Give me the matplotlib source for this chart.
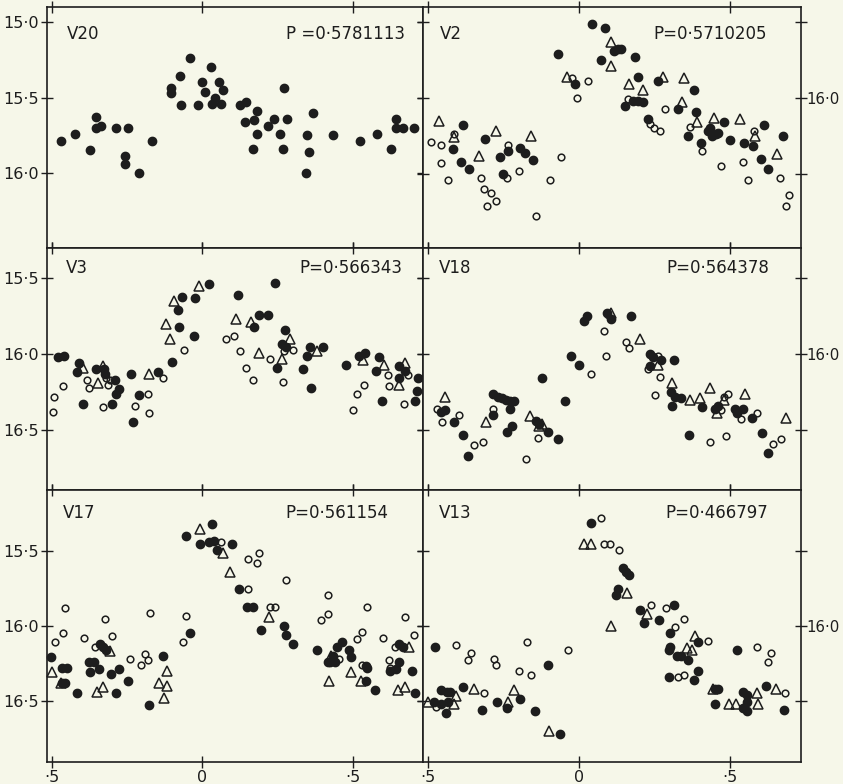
import matplotlib.pyplot as plt

# phase / magnitude
v20_f_ph = [-0.468, -0.422, -0.372, -0.352, -0.352, -0.337, -0.287, -0.256, -0.255, -0.248,
            -0.209, -0.166, -0.105, -0.105, -0.073, -0.071, -0.042, -0.014, -0.003, 0.008,
            0.029, 0.032, 0.043, 0.056, 0.063, 0.068, 0.123, 0.145, 0.142, 0.172,
            0.182, 0.182, 0.167, 0.217, 0.236, 0.257, 0.266, 0.270, 0.280, 0.345,
            0.353, 0.344, 0.368, 0.433, 0.521, 0.577, 0.626, 0.642, 0.641, 0.666, 0.701]
v20_f_mag = [15.79, 15.74, 15.85, 15.63, 15.70, 15.69, 15.70, 15.89, 15.94, 15.70,
             16.00, 15.79, 15.44, 15.47, 15.36, 15.55, 15.24, 15.55, 15.40, 15.46,
             15.30, 15.54, 15.50, 15.40, 15.54, 15.45, 15.55, 15.53, 15.66, 15.65,
             15.59, 15.74, 15.84, 15.69, 15.64, 15.74, 15.84, 15.44, 15.64, 15.75,
             15.86, 16.00, 15.60, 15.75, 15.79, 15.74, 15.84, 15.64, 15.70, 15.70, 15.70]

v2_f_ph = [-0.067, -0.013, 0.044, 0.087, 0.073, 0.118, 0.129, 0.139, 0.187, 0.196,
           0.154, 0.181, 0.197, 0.213, 0.262, 0.229, 0.329, 0.380, 0.388, 0.362,
           0.403, 0.426, 0.433, 0.441, 0.454, 0.461, 0.479, 0.500, 0.547, 0.576,
           0.612, 0.604, 0.627, 0.676,
           -0.382, -0.415, -0.389, -0.363, -0.311, -0.261, -0.250, -0.235, -0.193, -0.178, -0.152]
v2_f_mag = [15.71, 15.91, 15.51, 15.54, 15.75, 15.69, 15.68, 15.68, 15.73, 15.86,
            16.05, 16.02, 16.02, 16.03, 15.89, 16.14, 16.07, 15.95, 16.09, 16.25,
            16.30, 16.22, 16.20, 16.25, 16.24, 16.23, 16.16, 16.28, 16.30, 16.32,
            16.18, 16.40, 16.47, 16.25,
            16.18, 16.34, 16.42, 16.47, 16.27, 16.39, 16.50, 16.35, 16.33, 16.36, 16.41]
v2_o_ph = [-0.489, -0.454, -0.454, -0.432, -0.414, -0.324, -0.313, -0.291, -0.302, -0.273,
           -0.235, -0.236, -0.197, -0.140, -0.094, -0.058, -0.023, -0.006, 0.029, 0.163,
           0.235, 0.248, 0.270, 0.285, 0.369, 0.406, 0.470, 0.542, 0.559, 0.581,
           0.665, 0.695, 0.687]
v2_o_mag = [16.29, 16.31, 16.43, 16.54, 16.24, 16.53, 16.60, 16.63, 16.71, 16.68,
            16.31, 16.53, 16.48, 16.78, 16.54, 16.39, 15.87, 16.00, 15.89, 16.01,
            16.17, 16.20, 16.22, 16.07, 16.19, 16.35, 16.45, 16.42, 16.54, 16.22,
            16.53, 16.64, 16.71]
v2_t_ph = [-0.463, -0.414, -0.331, -0.272, -0.159, -0.040, 0.107, 0.107, 0.167, 0.213,
           0.278, 0.347, 0.341, 0.391, 0.446, 0.533, 0.583, 0.655]
v2_t_mag = [16.15, 16.26, 16.38, 16.22, 16.25, 15.86, 15.63, 15.79, 15.91, 15.95,
            15.86, 15.87, 16.03, 16.16, 16.13, 16.14, 16.25, 16.37]

v3_f_ph = [-0.477, -0.460, -0.409, -0.417, -0.396, -0.352, -0.325, -0.322, -0.298, -0.289,
           -0.288, -0.276, -0.238, -0.231, -0.210, -0.147, -0.100, -0.081, -0.076, -0.068,
           -0.029, -0.026, 0.021, 0.119, 0.171, 0.188, 0.216, 0.240, 0.273, 0.247,
           0.263, 0.276, 0.332, 0.355, 0.348, 0.360, 0.398, 0.475, 0.520, 0.540,
           0.585, 0.576, 0.595, 0.653, 0.653, 0.670, 0.703, 0.710, 0.716]
v3_f_mag = [16.02, 16.01, 16.06, 16.12, 16.33, 16.10, 16.10, 16.13, 16.33, 16.17,
            16.26, 16.23, 16.13, 16.45, 16.27, 16.12, 16.05, 15.71, 15.82, 15.62,
            15.88, 15.63, 15.54, 15.61, 15.82, 15.74, 15.74, 15.53, 15.84, 16.09,
            15.93, 15.95, 16.10, 15.95, 16.01, 16.22, 15.95, 16.07, 16.01, 15.99,
            16.02, 16.11, 16.31, 16.08, 16.16, 16.11, 16.31, 16.24, 16.16]
v3_o_ph = [-0.493, -0.496, -0.462, -0.381, -0.377, -0.330, -0.319, -0.313, -0.305, -0.222,
           -0.179, -0.178, -0.129, -0.060, 0.078, 0.106, 0.124, 0.143, 0.168, 0.225,
           0.268, 0.269, 0.301, 0.500, 0.511, 0.536, 0.616, 0.618, 0.669, 0.681]
v3_o_mag = [16.28, 16.38, 16.21, 16.17, 16.22, 16.35, 16.16, 16.20, 16.17, 16.34,
            16.26, 16.39, 16.16, 15.97, 15.90, 15.88, 15.98, 16.09, 16.17, 16.03,
            16.18, 15.98, 15.97, 16.37, 16.26, 16.20, 16.14, 16.21, 16.33, 16.14]
v3_t_ph = [-0.396, -0.347, -0.330, -0.177, -0.121, -0.108, -0.095, -0.011, 0.110, 0.160,
           0.189, 0.263, 0.290, 0.381, 0.533, 0.602, 0.651, 0.672]
v3_t_mag = [16.09, 16.19, 16.08, 16.13, 15.80, 15.90, 15.65, 15.55, 15.77, 15.79,
            15.99, 16.03, 15.90, 15.98, 16.04, 16.07, 16.20, 16.06]

v18_f_ph = [-0.455, -0.442, -0.413, -0.382, -0.365, -0.285, -0.283, -0.268, -0.254, -0.239,
            -0.228, -0.215, -0.227, -0.238, -0.220, -0.142, -0.133, -0.100, -0.069, -0.123,
            -0.044, -0.024, 0.000, 0.017, 0.028, 0.094, 0.107, 0.172, 0.236, 0.246,
            0.272, 0.237, 0.314, 0.305, 0.318, 0.338, 0.308, 0.366, 0.409, 0.459,
            0.517, 0.523, 0.542, 0.574, 0.606, 0.627, 0.452]
v18_f_mag = [16.38, 16.37, 16.45, 16.53, 16.67, 16.26, 16.40, 16.28, 16.29, 16.30,
             16.31, 16.31, 16.36, 16.51, 16.47, 16.44, 16.46, 16.51, 16.56, 16.16,
             16.31, 16.01, 16.07, 15.78, 15.75, 15.73, 15.77, 15.75, 16.00, 16.02,
             16.04, 16.08, 16.04, 16.25, 16.28, 16.29, 16.34, 16.53, 16.35, 16.34,
             16.36, 16.39, 16.36, 16.42, 16.52, 16.65, 16.36]
v18_o_ph = [-0.469, -0.453, -0.395, -0.345, -0.318, -0.283, -0.175, -0.134, 0.039, 0.084,
            0.089, 0.155, 0.167, 0.228, 0.251, 0.268, 0.263, 0.470, 0.482, 0.492,
            0.536, 0.487, 0.435, 0.589, 0.643, 0.670]
v18_o_mag = [16.36, 16.45, 16.40, 16.60, 16.58, 16.36, 16.69, 16.55, 16.13, 15.85,
             16.01, 15.92, 15.96, 16.10, 16.27, 16.15, 16.01, 16.37, 16.28, 16.26,
             16.43, 16.54, 16.58, 16.39, 16.59, 16.56]
v18_t_ph = [-0.441, -0.306, -0.160, -0.120, -0.131, 0.107, 0.202, 0.263, 0.309, 0.369,
            0.400, 0.435, 0.456, 0.481, 0.551, 0.685]
v18_t_mag = [16.28, 16.45, 16.41, 16.46, 16.47, 15.73, 15.90, 16.07, 16.19, 16.30,
             16.29, 16.22, 16.39, 16.30, 16.26, 16.42]

v17_f_ph = [-0.502, -0.465, -0.450, -0.466, -0.454, -0.414, -0.377, -0.372, -0.358, -0.343,
            -0.341, -0.330, -0.319, -0.302, -0.276, -0.286, -0.248, -0.178, -0.129, -0.041,
            -0.053, -0.007, 0.033, 0.023, 0.038, 0.050, 0.099, 0.121, 0.149, 0.169,
            0.195, 0.272, 0.277, 0.299, 0.379, 0.417, 0.439, 0.445, 0.461, 0.486,
            0.492, 0.542, 0.547, 0.541, 0.573, 0.623, 0.640, 0.650, 0.652, 0.666,
            0.695, 0.705, 0.434, 0.424]
v17_f_mag = [16.21, 16.28, 16.28, 16.38, 16.38, 16.45, 16.24, 16.31, 16.24, 16.29,
             16.12, 16.14, 16.16, 16.32, 16.29, 16.45, 16.37, 16.53, 16.20, 16.05,
             15.40, 15.45, 15.32, 15.44, 15.43, 15.49, 15.45, 15.75, 15.87, 15.87,
             16.03, 16.00, 16.06, 16.12, 16.16, 16.24, 16.24, 16.14, 16.11, 16.16,
             16.21, 16.27, 16.28, 16.37, 16.43, 16.30, 16.29, 16.24, 16.12, 16.14,
             16.30, 16.45, 16.20, 16.24]
v17_o_ph = [-0.487, -0.462, -0.455, -0.393, -0.355, -0.323, -0.299, -0.240, -0.202, -0.189,
            -0.179, -0.174, -0.064, -0.055, 0.060, 0.152, 0.181, 0.189, 0.150, 0.224,
            0.242, 0.277, 0.392, 0.415, 0.417, 0.451, 0.513, 0.529, 0.545, 0.530,
            0.600, 0.617, 0.639, 0.671, 0.700, 0.621]
v17_o_mag = [16.11, 16.05, 15.88, 16.08, 16.14, 15.95, 16.07, 16.22, 16.26, 16.19,
             16.23, 15.91, 16.11, 15.93, 15.44, 15.55, 15.58, 15.51, 15.75, 15.87,
             15.87, 15.69, 15.96, 15.79, 15.92, 16.22, 16.09, 16.04, 15.87, 16.26,
             16.08, 16.23, 16.14, 15.94, 16.06, 16.28]
v17_t_ph = [-0.499, -0.468, -0.348, -0.328, -0.306, -0.143, -0.118, -0.117, -0.127, -0.009,
            0.067, 0.093, 0.222, 0.419, 0.426, 0.493, 0.524, 0.649, 0.672, 0.686]
v17_t_mag = [16.31, 16.38, 16.44, 16.41, 16.17, 16.38, 16.30, 16.40, 16.48, 15.35,
             15.51, 15.64, 15.94, 16.37, 16.20, 16.31, 16.37, 16.43, 16.41, 16.14]

v13_f_ph = [0.041, 0.148, 0.155, 0.165, 0.130, 0.122, 0.204, 0.215, 0.264, 0.314,
            0.302, 0.302, 0.297, 0.324, 0.338, 0.360, 0.395, 0.394, 0.381, 0.298,
            0.452, 0.461, 0.452, 0.522, 0.542, 0.558, 0.558, 0.542, 0.558, 0.618, 0.678,
            -0.476, -0.457, -0.435, -0.427, -0.382, -0.438, -0.319, -0.269, -0.236, -0.194,
            -0.143, -0.100, -0.062, -0.477, -0.455, -0.433]
v13_f_mag = [15.31, 15.61, 15.64, 15.66, 15.75, 15.79, 15.89, 15.98, 15.96, 15.86,
             16.05, 16.14, 16.16, 16.20, 16.20, 16.23, 16.11, 16.30, 16.36, 16.34,
             16.42, 16.42, 16.52, 16.16, 16.44, 16.46, 16.51, 16.55, 16.57, 16.40, 16.56,
             16.14, 16.43, 16.44, 16.44, 16.41, 16.58, 16.56, 16.51, 16.55, 16.49,
             16.57, 16.26, 16.72, 16.51, 16.52, 16.51]
v13_o_ph = [0.074, 0.083, 0.104, 0.132, 0.239, 0.287, 0.317, 0.347, 0.426, -0.407,
            -0.355, -0.367, -0.280, -0.272, -0.170, -0.197, -0.157, -0.035, -0.312, 0.329,
            0.349, 0.589, 0.635, 0.627, 0.683, -0.471]
v13_o_mag = [15.28, 15.45, 15.45, 15.49, 15.86, 15.88, 16.01, 15.95, 16.10, 16.13,
             16.18, 16.23, 16.22, 16.26, 16.11, 16.30, 16.33, 16.16, 16.45, 16.34,
             16.33, 16.14, 16.18, 16.24, 16.45, 16.54]
v13_t_ph = [0.019, 0.041, 0.107, 0.159, 0.225, 0.359, 0.373, 0.385, 0.443, 0.496,
            0.521, 0.589, 0.594, 0.653, -0.345, -0.407, -0.413, -0.499, -0.235, -0.215, -0.098]
v13_t_mag = [15.45, 15.45, 16.00, 15.78, 15.92, 16.15, 16.16, 16.07, 16.42, 16.52,
             16.52, 16.45, 16.52, 16.42, 16.42, 16.47, 16.52, 16.51, 16.51, 16.43, 16.70]

names = ['V20', 'V2', 'V3', 'V18', 'V17', 'V13']
periods = ['P =0·5781113', 'P=0·5710205', 'P=0·566343',
           'P=0·564378', 'P=0·561154', 'P=0·466797']
x_ticks = [-0.5, 0.0, 0.5]
x_ticklabels = ['·5', '0', '·5']

BG = '#f6f7e9'
INK = '#1d1d1d'


def dotted(v):
    return f'{v:.1f}'.replace('.', '·')


fig = plt.figure(figsize=(8.43, 7.84), dpi=100, facecolor=BG)
W, H = 843.0, 784.0

# pixel boxes of the six panels
cols = [(47, 423), (423, 801)]
rows = [(7, 248), (248, 490), (490, 762)]

panels = [
    (v20_f_ph, v20_f_mag, None, None, None, None),
    (v2_f_ph, v2_f_mag, v2_o_ph, v2_o_mag, v2_t_ph, v2_t_mag),
    (v3_f_ph, v3_f_mag, v3_o_ph, v3_o_mag, v3_t_ph, v3_t_mag),
    (v18_f_ph, v18_f_mag, v18_o_ph, v18_o_mag, v18_t_ph, v18_t_mag),
    (v17_f_ph, v17_f_mag, v17_o_ph, v17_o_mag, v17_t_ph, v17_t_mag),
    (v13_f_ph, v13_f_mag, v13_o_ph, v13_o_mag, v13_t_ph, v13_t_mag),
]
ylims = [(16.497, 14.90), (16.99, 15.40), (16.895, 15.30), (16.895, 15.30),
         (16.907, 15.093), (16.907, 15.093)]
yticks = [[15.0, 15.5, 16.0], [15.5, 16.0, 16.5], [15.5, 16.0, 16.5],
          [15.5, 16.0, 16.5], [15.5, 16.0, 16.5], [15.5, 16.0, 16.5]]
name_x = [0.053, 0.045, 0.05, 0.042, 0.043, 0.042]
per_x = [0.952, 0.91, 0.944, 0.915, 0.907, 0.913]
text_y = [0.888, 0.888, 0.917, 0.917, 0.915, 0.915]

for i, (fp, fm, op, om, tp, tm) in enumerate(panels):
    r, c = divmod(i, 2)
    x0, x1 = cols[c]
    y0, y1 = rows[r]
    ax = fig.add_axes([x0 / W, 1 - y1 / H, (x1 - x0) / W, (y1 - y0) / H])
    ax.set_facecolor(BG)
    ax.plot(fp, fm, 'o', ms=6, color=INK, mec=INK, clip_on=False)
    if op is not None:
        ax.plot(op, om, 'o', ms=4.8, mfc='none', mec=INK, mew=1.1, clip_on=False)
        ax.plot(tp, tm, '^', ms=7, mfc='none', mec=INK, mew=1.1, clip_on=False)
    ax.set_xlim(-0.515, 0.731 if c == 0 else 0.735)
    ax.set_ylim(*ylims[i])
    ax.set_xticks(x_ticks)
    ax.set_yticks(yticks[i])
    if r == 2:
        ax.set_xticklabels(x_ticklabels)
    else:
        ax.set_xticklabels([])
    ax.tick_params(axis='both', direction='inout', length=8, width=1.0, colors=INK,
                   labelsize=11.5, pad=2, top=True, bottom=True)
    if c == 0:
        ax.set_yticklabels([dotted(v) for v in yticks[i]])
        ax.tick_params(axis='y', left=True, right=True, labelleft=True, labelright=False)
    else:
        ax.yaxis.tick_right()
        ax.set_yticklabels(['' if v != 16.0 else dotted(v) for v in yticks[i]])
        ax.tick_params(axis='y', left=True, right=True, labelleft=False, labelright=True,
                       labelsize=10.8, pad=0)
    for s in ax.spines.values():
        s.set_linewidth(1.2)
        s.set_color(INK)
    ax.text(name_x[i], text_y[i], names[i], transform=ax.transAxes, fontsize=12,
            color=INK, ha='left', va='center')
    ax.text(per_x[i], text_y[i], periods[i], transform=ax.transAxes, fontsize=12,
            color=INK, ha='right', va='center')

fig.savefig('out.png', dpi=100, facecolor=BG)
